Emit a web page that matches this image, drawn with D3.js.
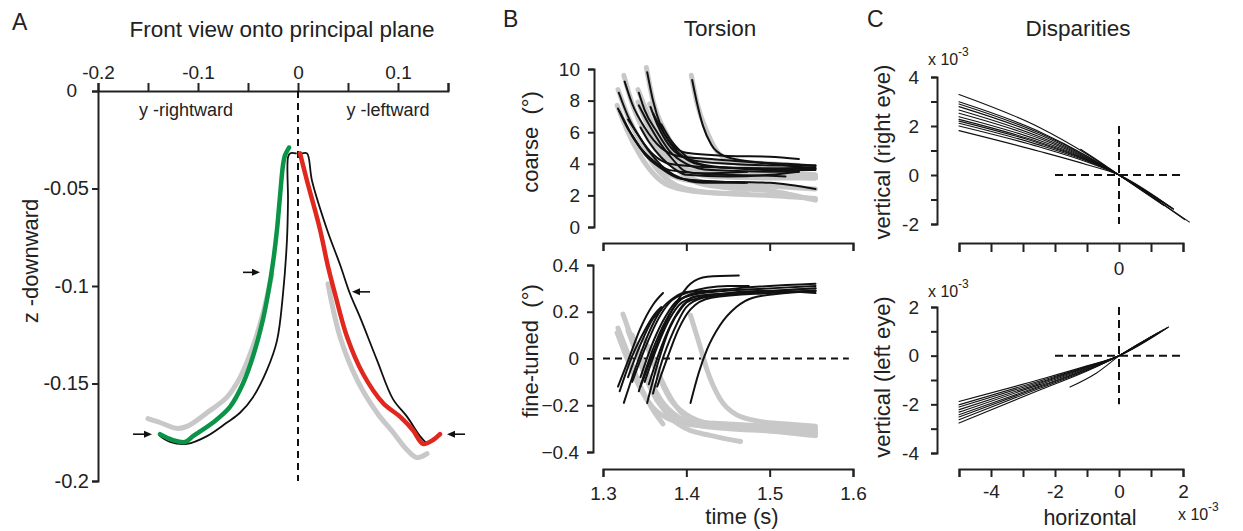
<!DOCTYPE html>
<html>
<head>
<meta charset="utf-8">
<script src="https://cdn.jsdelivr.net/npm/d3@7"></script>
<style>
  body { margin: 0; background: #fff; }
  svg text { font-family: "Liberation Sans", Arial, sans-serif; fill: #222; }
  .axis path, .axis line { stroke: #222; stroke-width: 2; }
  .axis text { font-size: 19px; fill: #222; }
  .axis.big text { font-size: 20px; }
</style>
</head>
<body>
<svg id="fig" width="1243" height="531"></svg>
<script>
// ---------- Panel A: front view, points are [y, z] ----------
const xTicksA = [-0.2, -0.15, -0.1, -0.05, 0, 0.05, 0.1, 0.15];
const xTickLabelsA = ["-0.2", "", "-0.1", "", "0", "", "0.1", ""];
const zTicksA = [0, -0.05, -0.1, -0.15, -0.2];
const zTickLabelsA = ["", "-0.05", "-0.1", "-0.15", "-0.2"];

const grayLeftA = [[-0.026,-0.094],[-0.035,-0.114],[-0.045,-0.131],[-0.058,-0.147],[-0.071,-0.157],[-0.091,-0.165],[-0.111,-0.172],[-0.121,-0.173],[-0.138,-0.170],[-0.150,-0.168]];
const grayRightA = [[0.030,-0.099],[0.042,-0.126],[0.059,-0.148],[0.079,-0.165],[0.095,-0.175],[0.109,-0.184],[0.119,-0.188],[0.129,-0.186]];
const blackLeftA = [[-0.002,-0.032],[-0.008,-0.032],[-0.010,-0.034],[-0.010,-0.056],[-0.011,-0.076],[-0.015,-0.104],[-0.021,-0.128],[-0.031,-0.143],[-0.045,-0.157],[-0.058,-0.165],[-0.071,-0.170],[-0.091,-0.177],[-0.111,-0.181],[-0.128,-0.180],[-0.138,-0.177]];
const blackRightA = [[0.004,-0.032],[0.009,-0.032],[0.014,-0.046],[0.029,-0.071],[0.042,-0.089],[0.052,-0.104],[0.062,-0.116],[0.079,-0.138],[0.095,-0.158],[0.109,-0.167],[0.122,-0.177],[0.129,-0.181]];
const greenA = [[-0.009,-0.029],[-0.013,-0.033],[-0.015,-0.038],[-0.018,-0.054],[-0.021,-0.071],[-0.025,-0.088],[-0.030,-0.104],[-0.035,-0.117],[-0.045,-0.136],[-0.055,-0.150],[-0.068,-0.162],[-0.085,-0.170],[-0.105,-0.177],[-0.113,-0.180],[-0.125,-0.179],[-0.138,-0.176]];
const redA = [[0.002,-0.032],[0.009,-0.046],[0.022,-0.071],[0.030,-0.090],[0.037,-0.104],[0.049,-0.126],[0.065,-0.145],[0.085,-0.160],[0.102,-0.167],[0.115,-0.174],[0.125,-0.181],[0.135,-0.179],[0.142,-0.176]];
// arrows: [from y, to y, z]
const arrowsA = [[-0.055,-0.038,-0.093],[0.072,0.054,-0.103],[-0.165,-0.146,-0.176],[0.167,0.149,-0.176]];

// ---------- Panel B: torsion, points are [time s, deg] ----------
const timeTicks = [1.3, 1.4, 1.5, 1.6];
const coarseTicks = [0, 2, 4, 6, 8, 10];
const fineTicks = [-0.4, -0.2, 0, 0.2, 0.4];

const coarseGray = [
  [[1.352,10.1],[1.36,8.0],[1.375,6.0],[1.39,4.8],[1.42,4.2],[1.50,4.0],[1.535,3.9]],
  [[1.406,9.6],[1.413,7.8],[1.425,6.0],[1.44,4.6],[1.47,3.9],[1.52,3.5],[1.555,3.3]],
  [[1.325,9.6],[1.335,7.8],[1.35,6.0],[1.37,4.5],[1.40,3.6],[1.45,3.3],[1.555,3.1]],
  [[1.318,8.7],[1.33,7.0],[1.345,5.4],[1.36,4.2],[1.38,3.3],[1.42,2.8],[1.50,2.6],[1.555,2.4]],
  [[1.317,7.7],[1.33,6.0],[1.345,4.5],[1.36,3.4],[1.38,2.6],[1.42,2.2],[1.473,2.1]],
  [[1.342,8.7],[1.355,7.0],[1.37,5.3],[1.385,4.0],[1.41,3.0],[1.45,2.5],[1.50,2.3],[1.555,1.7]],
  [[1.342,7.9],[1.355,6.3],[1.37,4.8],[1.39,3.6],[1.42,2.7],[1.473,2.4]],
  [[1.356,7.8],[1.37,6.0],[1.385,4.6],[1.40,3.7],[1.43,3.2],[1.50,3.1],[1.555,3.1]],
  [[1.33,6.9],[1.345,5.4],[1.36,4.0],[1.38,2.9],[1.41,2.3],[1.45,2.1],[1.50,2.0],[1.555,1.8]],
  [[1.36,7.3],[1.375,5.8],[1.39,4.6],[1.41,3.8],[1.45,3.4],[1.50,3.3],[1.555,3.2]]
];
const coarseBlack = [
  [[1.353,9.8],[1.36,8.0],[1.37,6.3],[1.385,5.1],[1.40,4.7],[1.45,4.5],[1.50,4.45],[1.535,4.3]],
  [[1.407,9.3],[1.413,7.8],[1.42,6.4],[1.43,5.2],[1.445,4.5],[1.47,4.2],[1.52,4.0],[1.555,3.9]],
  [[1.326,9.2],[1.335,7.8],[1.35,6.3],[1.37,5.0],[1.39,4.5],[1.43,4.3],[1.50,4.0],[1.555,3.7]],
  [[1.319,8.5],[1.33,7.0],[1.345,5.6],[1.36,4.6],[1.38,4.0],[1.42,3.8],[1.50,3.7],[1.555,3.8]],
  [[1.343,8.5],[1.35,7.4],[1.365,6.0],[1.38,4.8],[1.40,4.0],[1.43,3.6],[1.50,3.5],[1.535,3.5]],
  [[1.318,7.5],[1.33,6.2],[1.345,5.0],[1.36,4.2],[1.38,3.6],[1.42,3.4],[1.473,3.5]],
  [[1.343,7.7],[1.355,6.5],[1.37,5.2],[1.385,4.2],[1.40,3.5],[1.44,3.3],[1.50,3.25],[1.519,3.2]],
  [[1.357,7.6],[1.365,6.5],[1.375,5.5],[1.39,4.6],[1.41,4.2],[1.45,4.0],[1.50,3.9],[1.555,3.9]],
  [[1.320,7.3],[1.335,5.8],[1.35,4.6],[1.37,3.7],[1.39,3.1],[1.42,2.9],[1.50,2.8],[1.555,2.4]],
  [[1.33,6.8],[1.34,6.0],[1.355,4.8],[1.37,3.9],[1.385,3.3],[1.42,2.8],[1.473,2.8]],
  [[1.36,7.2],[1.37,6.2],[1.385,5.0],[1.40,4.3],[1.42,3.9],[1.46,3.7],[1.50,3.6],[1.555,3.6]],
  [[1.345,6.3],[1.355,5.4],[1.37,4.4],[1.385,3.7],[1.40,3.3],[1.45,3.2],[1.50,3.3],[1.535,3.5]],
  [[1.335,5.8],[1.345,5.0],[1.36,4.2],[1.38,3.4],[1.40,3.0],[1.45,2.85],[1.47,2.8]],
  [[1.37,6.5],[1.38,5.6],[1.395,4.7],[1.41,4.1],[1.44,3.8],[1.50,3.7],[1.555,3.7]]
];
const fineGray = [
  [[1.324,0.19],[1.335,0.08],[1.35,-0.07],[1.365,-0.18],[1.38,-0.24],[1.40,-0.27],[1.45,-0.28],[1.555,-0.30]],
  [[1.318,0.13],[1.33,0.02],[1.345,-0.12],[1.36,-0.22],[1.372,-0.28]],
  [[1.317,0.11],[1.33,-0.01],[1.345,-0.13],[1.36,-0.21],[1.38,-0.26],[1.40,-0.28],[1.43,-0.29],[1.47,-0.30]],
  [[1.405,0.185],[1.415,0.07],[1.425,-0.05],[1.44,-0.17],[1.46,-0.24],[1.49,-0.27],[1.52,-0.28],[1.555,-0.29]],
  [[1.335,0.10],[1.35,-0.05],[1.365,-0.17],[1.38,-0.25],[1.40,-0.30],[1.43,-0.33],[1.465,-0.355]],
  [[1.34,0.06],[1.355,-0.08],[1.37,-0.18],[1.39,-0.25],[1.42,-0.29],[1.50,-0.31],[1.555,-0.32]],
  [[1.35,0.08],[1.365,-0.06],[1.38,-0.17],[1.40,-0.24],[1.43,-0.28],[1.50,-0.30],[1.555,-0.31]],
  [[1.33,0.12],[1.345,-0.02],[1.36,-0.14],[1.38,-0.23],[1.40,-0.27],[1.45,-0.29],[1.555,-0.33]],
  [[1.355,0.05],[1.37,-0.09],[1.385,-0.19],[1.40,-0.25],[1.43,-0.28],[1.50,-0.30],[1.555,-0.31]]
];
const fineBlack = [
  [[1.318,-0.12],[1.33,-0.01],[1.345,0.13],[1.36,0.23],[1.372,0.28]],
  [[1.320,-0.14],[1.335,0.01],[1.35,0.12],[1.362,0.19],[1.370,0.22]],
  [[1.325,-0.19],[1.34,-0.03],[1.355,0.11],[1.37,0.21],[1.385,0.26],[1.40,0.285],[1.43,0.29]],
  [[1.345,-0.12],[1.36,0.02],[1.375,0.15],[1.39,0.25],[1.405,0.32],[1.425,0.35],[1.463,0.355]],
  [[1.343,-0.14],[1.36,0.04],[1.375,0.16],[1.39,0.24],[1.41,0.28],[1.46,0.30],[1.555,0.32]],
  [[1.353,-0.19],[1.365,-0.03],[1.38,0.13],[1.395,0.22],[1.41,0.265],[1.46,0.28],[1.555,0.30]],
  [[1.35,-0.10],[1.365,0.05],[1.38,0.17],[1.395,0.24],[1.42,0.27],[1.48,0.28],[1.555,0.29]],
  [[1.36,-0.15],[1.37,-0.02],[1.385,0.12],[1.40,0.22],[1.42,0.26],[1.47,0.28],[1.555,0.30]],
  [[1.365,-0.12],[1.378,0.01],[1.39,0.12],[1.405,0.21],[1.43,0.26],[1.50,0.28],[1.555,0.29]],
  [[1.405,-0.19],[1.415,-0.06],[1.425,0.04],[1.44,0.14],[1.46,0.22],[1.48,0.26],[1.52,0.28],[1.555,0.29]],
  [[1.335,-0.10],[1.35,0.04],[1.365,0.16],[1.38,0.24],[1.40,0.28],[1.45,0.31],[1.475,0.31]],
  [[1.345,-0.08],[1.36,0.07],[1.375,0.18],[1.39,0.25],[1.42,0.28],[1.50,0.30],[1.555,0.31]],
  [[1.355,-0.11],[1.37,0.05],[1.385,0.17],[1.40,0.24],[1.43,0.27],[1.50,0.29],[1.555,0.28]],
  [[1.33,-0.08],[1.345,0.06],[1.36,0.17],[1.37,0.21]]
];

// ---------- Panel C: disparities (x 10^-3), points are [horizontal, vertical] ----------
const dispXTicks = [-5, -4, -3, -2, -1, 0, 1, 2];
const dispXLabels = ["", "-4", "", "-2", "", "0", "", "2"];
const rightEyeTicks = [-2, -1, 0, 1, 2, 3, 4];
const leftEyeTicks = [-4, -3, -2, -1, 0, 1, 2];

const rightEye = [
  [[-5,3.29],[-2.5,1.95],[-1,0.85],[0,0],[2.2,-1.92]],
  [[-5,2.99],[-2.5,1.78],[-1,0.78],[0,0],[1.7,-1.40]],
  [[-5,2.90],[-2.5,1.72],[-1,0.76],[0,0],[2.05,-1.82]],
  [[-5,2.79],[-2.5,1.65],[-1,0.73],[0,0],[1.3,-1.05]],
  [[-5,2.65],[-2.5,1.57],[-1,0.70],[0,0],[1.0,-0.82]],
  [[-5,2.52],[-2.5,1.50],[-1,0.67],[0,0],[1.7,-1.38]],
  [[-5,2.38],[-2.5,1.42],[-1,0.64],[0,0],[0.7,-0.58]],
  [[-5,2.27],[-2.5,1.35],[-1,0.62],[0,0],[1.2,-0.97]],
  [[-5,2.20],[-2.5,1.30],[-1,0.60],[0,0],[1.5,-1.22]],
  [[-5,2.11],[-2.5,1.23],[-1,0.57],[0,0],[0.9,-0.75]],
  [[-5,2.00],[-2.5,1.15],[-1,0.53],[0,0],[1.3,-1.08]],
  [[-5,1.81],[-2.5,0.97],[-1,0.42],[0,0],[1.6,-1.30]],
  [[-1.2,1.05],[-0.5,0.45],[0,0],[1.4,-1.25]]
];
const leftEye = [
  [[-5,-1.88],[-2.5,-0.99],[-1,-0.42],[0,0],[1.55,1.18]],
  [[-5,-2.02],[-2.5,-1.05],[-1,-0.45],[0,0],[1.3,1.0]],
  [[-5,-2.11],[-2.5,-1.10],[-1,-0.47],[0,0],[1.0,0.78]],
  [[-5,-2.22],[-2.5,-1.15],[-1,-0.49],[0,0],[1.4,1.08]],
  [[-5,-2.32],[-2.5,-1.20],[-1,-0.52],[0,0],[0.8,0.62]],
  [[-5,-2.43],[-2.5,-1.26],[-1,-0.55],[0,0],[1.2,0.93]],
  [[-5,-2.52],[-2.5,-1.30],[-1,-0.57],[0,0],[1.5,1.15]],
  [[-5,-2.63],[-2.5,-1.35],[-1,-0.60],[0,0],[0.6,0.47]],
  [[-5,-2.77],[-2.5,-1.42],[-1,-0.63],[0,0],[1.1,0.85]],
  [[-1.53,-1.29],[-0.7,-0.71],[0,-0.02],[1.2,0.92]]
];

const svg = d3.select("#fig");
svg.append("rect").attr("width", 1243).attr("height", 531).attr("fill", "#fff");

function label(txt, x, y, size, anchor, rot) {
  const t = svg.append("text").text(txt)
    .attr("font-size", size).attr("text-anchor", anchor || "start");
  if (rot) t.attr("transform", `translate(${x},${y}) rotate(-90)`);
  else t.attr("x", x).attr("y", y);
  return t;
}
function drawLines(data, line, color, width) {
  svg.append("g").selectAll("path").data(data).enter().append("path")
    .attr("d", line).attr("fill", "none").attr("stroke", color)
    .attr("stroke-width", width).attr("stroke-linecap", "round").attr("stroke-linejoin", "round");
}

// ================= Panel A =================
const xA = d3.scaleLinear().domain([-0.2, 0.15]).range([98, 448]);
const zA = d3.scaleLinear().domain([0, -0.2]).range([91, 481]);

svg.append("g").attr("class", "axis").attr("transform", "translate(0,91)")
  .call(d3.axisTop(xA).tickValues(xTicksA).tickSize(8).tickSizeOuter(8).tickPadding(4)
    .tickFormat((d, i) => xTickLabelsA[i]));
svg.append("g").attr("class", "axis big").attr("transform", "translate(98,0)")
  .call(d3.axisLeft(zA).tickValues(zTicksA).tickSize(6).tickSizeOuter(6).tickPadding(3)
    .tickFormat((d, i) => zTickLabelsA[i]));
label("0", 77, 97, 19, "end");

svg.append("line").attr("x1", xA(0)).attr("x2", xA(0)).attr("y1", zA(0)).attr("y2", zA(-0.2))
  .attr("stroke", "#111").attr("stroke-width", 2).attr("stroke-dasharray", "7,5");

const lineA = d3.line().x(d => xA(d[0])).y(d => zA(d[1])).curve(d3.curveCatmullRom);
drawLines([grayLeftA, grayRightA], lineA, "#c8c8c8", 5);
drawLines([blackLeftA, blackRightA], lineA, "#111", 1.8);
drawLines([greenA], lineA, "#0a9447", 4.5);
drawLines([redA], lineA, "#e0281e", 4.5);

arrowsA.forEach(a => {
  const x0 = xA(a[0]), x1 = xA(a[1]), y = zA(a[2]);
  const dir = Math.sign(x1 - x0);
  svg.append("line").attr("x1", x0).attr("x2", x1 - dir * 5).attr("y1", y).attr("y2", y)
    .attr("stroke", "#111").attr("stroke-width", 1.6);
  svg.append("path")
    .attr("d", `M${x1},${y}L${x1 - dir * 8},${y - 3.5}L${x1 - dir * 8},${y + 3.5}Z`)
    .attr("fill", "#111");
});

label("A", 12, 30, 23);
label("Front view onto principal plane", 282, 37, 22.5, "middle");
label("y -rightward", 186, 116, 18, "middle");
label("y -leftward", 388, 116, 18, "middle");
label("z -downward", 38, 261, 22, "middle", true);

// ================= Panel B =================
const tB = d3.scaleLinear().domain([1.3, 1.6]).range([603, 853]);
const coarseY = d3.scaleLinear().domain([0, 10]).range([227, 69]);
const fineY = d3.scaleLinear().domain([-0.4, 0.4]).range([452, 265]);

svg.append("g").attr("class", "axis").attr("transform", "translate(594,0)")
  .call(d3.axisLeft(coarseY).tickValues(coarseTicks).tickSize(6).tickSizeOuter(6).tickPadding(8)
    .tickFormat(d3.format("d")));
svg.append("g").attr("class", "axis").attr("transform", "translate(593,0)")
  .call(d3.axisLeft(fineY).tickValues(fineTicks).tickSize(6).tickSizeOuter(6).tickPadding(8)
    .tickFormat(d => d === 0 ? "0" : d3.format(".1f")(d)));
svg.append("g").attr("class", "axis").attr("transform", "translate(0,243)")
  .call(d3.axisBottom(tB).tickValues(timeTicks).tickSize(8).tickSizeOuter(8).tickFormat(""));
svg.append("g").attr("class", "axis").attr("transform", "translate(0,469)")
  .call(d3.axisBottom(tB).tickValues(timeTicks).tickSize(8).tickSizeOuter(8).tickPadding(10)
    .tickFormat(d3.format(".1f")));

const coarseLine = d3.line().x(d => tB(d[0])).y(d => coarseY(d[1])).curve(d3.curveMonotoneX);
const fineLine = d3.line().x(d => tB(d[0])).y(d => fineY(d[1])).curve(d3.curveMonotoneX);
drawLines(coarseGray, coarseLine, "#c8c8c8", 5);
drawLines(coarseBlack, coarseLine, "#111", 2);

svg.append("line").attr("x1", tB(1.3)).attr("x2", tB(1.595)).attr("y1", fineY(0)).attr("y2", fineY(0))
  .attr("stroke", "#111").attr("stroke-width", 2).attr("stroke-dasharray", "7,5");
drawLines(fineGray, fineLine, "#c8c8c8", 5);
drawLines(fineBlack, fineLine, "#111", 2);

label("B", 503, 27, 23);
label("Torsion", 720, 36, 22.5, "middle");
label("coarse\u00a0\u00a0(\u00b0)", 538, 142, 22, "middle", true);
label("fine-tuned\u00a0\u00a0(\u00b0)", 538, 351, 22, "middle", true);
label("time (s)", 742, 524, 22, "middle");

// ================= Panel C =================
const xC = d3.scaleLinear().domain([-5, 2]).range([959, 1183]);
const rightY = d3.scaleLinear().domain([-2, 4]).range([224, 77]);
const leftY = d3.scaleLinear().domain([-4, 2]).range([453, 307]);

svg.append("g").attr("class", "axis").attr("transform", "translate(937,0)")
  .call(d3.axisLeft(rightY).tickValues(rightEyeTicks).tickSize(6).tickSizeOuter(6).tickPadding(12)
    .tickFormat(d => d % 2 === 0 ? String(d) : ""));
svg.append("g").attr("class", "axis").attr("transform", "translate(937,0)")
  .call(d3.axisLeft(leftY).tickValues(leftEyeTicks).tickSize(6).tickSizeOuter(6).tickPadding(12)
    .tickFormat(d => d % 2 === 0 ? String(d) : ""));
svg.append("g").attr("class", "axis").attr("transform", "translate(0,243)")
  .call(d3.axisBottom(xC).tickValues(dispXTicks).tickSize(9).tickSizeOuter(9).tickFormat(""));
svg.append("g").attr("class", "axis").attr("transform", "translate(0,469)")
  .call(d3.axisBottom(xC).tickValues(dispXTicks).tickSize(8).tickSizeOuter(8).tickPadding(8)
    .tickFormat((d, i) => dispXLabels[i]));
label("0", xC(0), 275, 19, "middle");

const dashC = (x1, y1, x2, y2) => svg.append("line")
  .attr("x1", x1).attr("y1", y1).attr("x2", x2).attr("y2", y2)
  .attr("stroke", "#111").attr("stroke-width", 2).attr("stroke-dasharray", "8,5");
dashC(xC(-2), rightY(0), xC(2), rightY(0));
dashC(xC(0), rightY(2), xC(0), rightY(-2));
dashC(xC(-2), leftY(0), xC(2), leftY(0));
dashC(xC(0), leftY(2), xC(0), leftY(-2));

const rightLine = d3.line().x(d => xC(d[0])).y(d => rightY(d[1])).curve(d3.curveMonotoneX);
const leftLine = d3.line().x(d => xC(d[0])).y(d => leftY(d[1])).curve(d3.curveMonotoneX);
drawLines(rightEye, rightLine, "#111", 1.1);
drawLines(leftEye, leftLine, "#111", 1.1);

label("C", 867, 27, 23);
label("Disparities", 1078, 36, 22.5, "middle");
label("vertical (right eye)", 890, 152, 22, "middle", true);
label("vertical (left eye)", 890, 377, 22, "middle", true);
label("horizontal", 1090, 525, 21.5, "middle");
label("x 10", 928, 65, 16);
label("-3", 958, 56, 12);
label("x 10", 928, 297, 16);
label("-3", 958, 288, 12);
label("x 10", 1178, 520, 16);
label("-3", 1208, 511, 12);
</script>
</body>
</html>
